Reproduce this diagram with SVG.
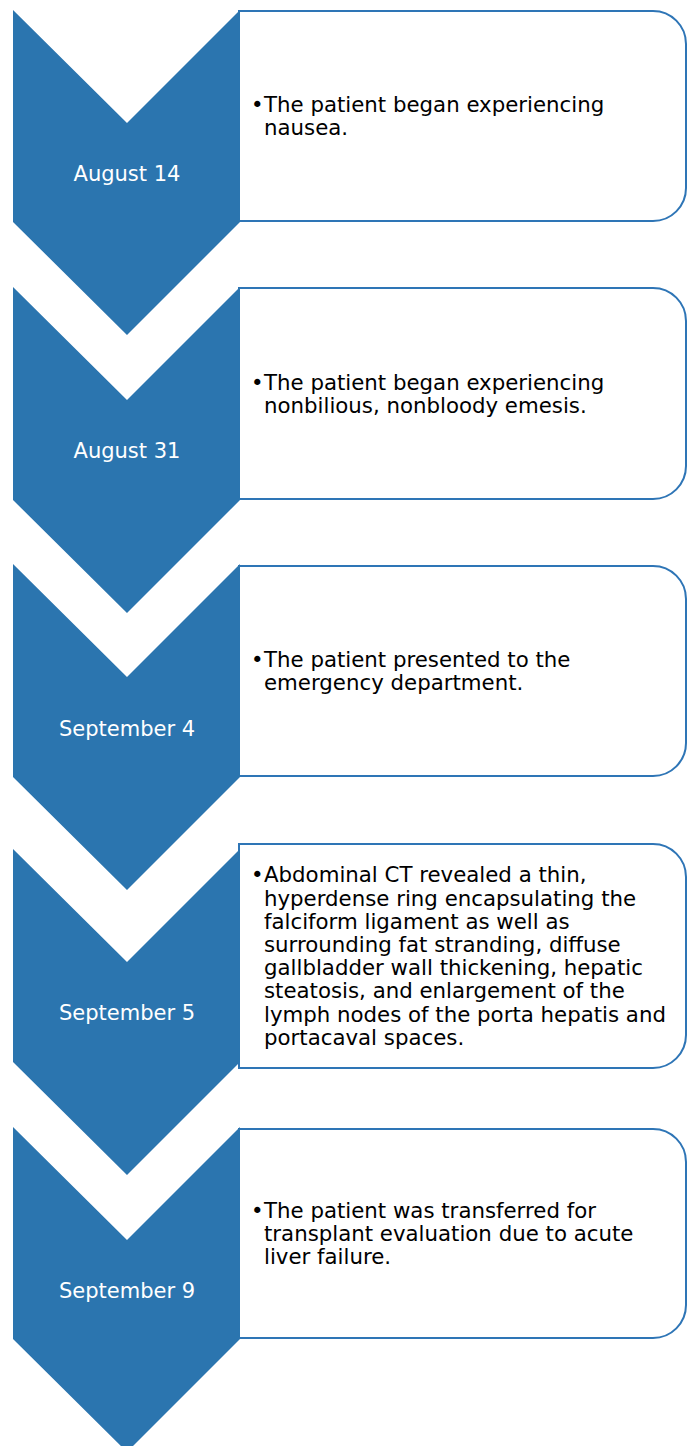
<svg xmlns="http://www.w3.org/2000/svg" width="691" height="1446" viewBox="0 0 691 1446">
<style>
.box{fill:#ffffff;stroke:#2E75B6;stroke-width:2}
.chev{fill:#2B75AF}
.date{font-family:"DejaVu Sans",Verdana,sans-serif;font-size:21px;fill:#ffffff;text-anchor:middle}
.txt{font-family:"DejaVu Sans",Verdana,sans-serif;font-size:21.3px;fill:#000000}
</style>
<rect width="691" height="1446" fill="#ffffff"/>
<g id="step1">
<path class="box" d="M239,11 H653 A33,33 0 0 1 686,44 V188 A33,33 0 0 1 653,221 H239 Z"/>
<polygon class="chev" points="13,10 127,123 240,10 240,222 127,335 13,222"/>
<text class="date" x="127" y="181">August 14</text>
<text class="txt" x="251" y="112">•</text>
<text class="txt" x="264" y="112">The patient began experiencing</text>
<text class="txt" x="264" y="135">nausea.</text>
</g>
<g id="step2">
<path class="box" d="M239,288 H653 A33,33 0 0 1 686,321 V466 A33,33 0 0 1 653,499 H239 Z"/>
<polygon class="chev" points="13,287 127,400 240,287 240,500 127,613 13,500"/>
<text class="date" x="127" y="458">August 31</text>
<text class="txt" x="251" y="389.5">•</text>
<text class="txt" x="264" y="389.5">The patient began experiencing</text>
<text class="txt" x="264" y="412.7">nonbilious, nonbloody emesis.</text>
</g>
<g id="step3">
<path class="box" d="M239,566 H653 A33,33 0 0 1 686,599 V743 A33,33 0 0 1 653,776 H239 Z"/>
<polygon class="chev" points="13,564 127,677 240,564 240,777 127,890 13,777"/>
<text class="date" x="127" y="736">September 4</text>
<text class="txt" x="251" y="667">•</text>
<text class="txt" x="264" y="667">The patient presented to the</text>
<text class="txt" x="264" y="690.2">emergency department.</text>
</g>
<g id="step4">
<path class="box" d="M239,844 H653 A33,33 0 0 1 686,877 V1035 A33,33 0 0 1 653,1068 H239 Z"/>
<polygon class="chev" points="13,849 127,962 240,849 240,1062 127,1175 13,1062"/>
<text class="date" x="127" y="1020">September 5</text>
<text class="txt" x="251" y="882.3">•</text>
<text class="txt" x="264" y="882.3">Abdominal CT revealed a thin,</text>
<text class="txt" x="264" y="905.5">hyperdense ring encapsulating the</text>
<text class="txt" x="264" y="928.7">falciform ligament as well as</text>
<text class="txt" x="264" y="951.9">surrounding fat stranding, diffuse</text>
<text class="txt" x="264" y="975.1">gallbladder wall thickening, hepatic</text>
<text class="txt" x="264" y="998.3">steatosis, and enlargement of the</text>
<text class="txt" x="264" y="1021.5">lymph nodes of the porta hepatis and</text>
<text class="txt" x="264" y="1044.7">portacaval spaces.</text>
</g>
<g id="step5">
<path class="box" d="M239,1129 H653 A33,33 0 0 1 686,1162 V1305 A33,33 0 0 1 653,1338 H239 Z"/>
<polygon class="chev" points="13,1127 127,1240 240,1127 240,1339 127,1452 13,1339"/>
<text class="date" x="127" y="1298">September 9</text>
<text class="txt" x="251" y="1217.8">•</text>
<text class="txt" x="264" y="1217.8">The patient was transferred for</text>
<text class="txt" x="264" y="1241">transplant evaluation due to acute</text>
<text class="txt" x="264" y="1264.2">liver failure.</text>
</g>
<g id="connectors"></g>
</svg>
